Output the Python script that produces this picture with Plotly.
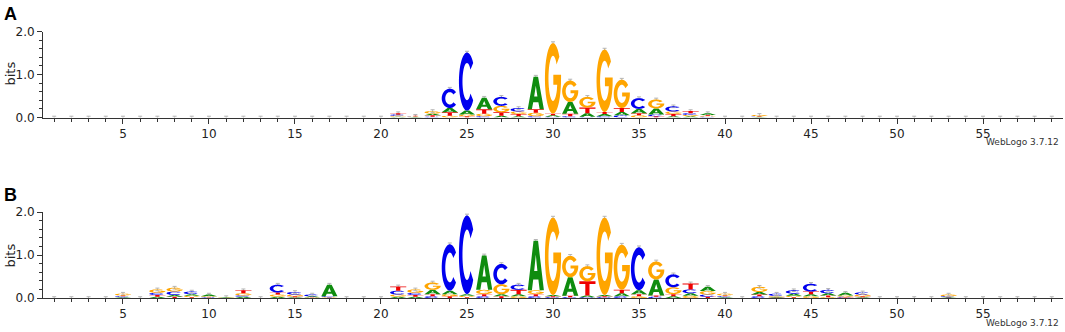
import numpy as np
import plotly.graph_objects as go

# positions 1..59
positions = list(range(1, 60))

# panel A letter heights (bits), one value per position
a_A = [0]*20 + [0.02, 0.01, 0.04, 0.10, 0.09, 0.27, 0.04, 0.03, 0.76, 0.03,
                0.27, 0.08, 0.05, 0.08, 0.10, 0.14, 0.03, 0.03, 0.04, 0,
                0, 0.01] + [0]*17
a_C = [0]*20 + [0.03, 0.01, 0.02, 0.45, 1.35, 0.03, 0.21, 0.08, 0.03, 0.02,
                0.03, 0.02, 0.03, 0.05, 0.25, 0.04, 0.12, 0.04, 0.02, 0,
                0, 0.01] + [0]*17
a_G = [0]*20 + [0.02, 0.01, 0.06, 0.04, 0.04, 0.06, 0.15, 0.06, 0.08, 1.64,
                0.50, 0.25, 1.45, 0.66, 0.05, 0.21, 0.06, 0.03, 0.02, 0,
                0, 0.03] + [0]*17
a_T = [0]*20 + [0.03, 0.01, 0.03, 0.08, 0.03, 0.10, 0.08, 0.05, 0.08, 0.04,
                0.06, 0.13, 0.05, 0.09, 0.05, 0.03, 0.05, 0.05, 0.02, 0,
                0, 0.01] + [0]*17

# panel B letter heights (bits)
b_A = [0, 0, 0, 0, 0.02, 0, 0.03, 0.04, 0.04, 0.04,
       0.01, 0.03, 0, 0.03, 0.02, 0.02, 0.27, 0, 0, 0,
       0.03, 0.03, 0.10, 0.08, 0.04, 0.80, 0.05, 0.05, 1.15, 0.03,
       0.43, 0.04, 0.03, 0.07, 0.09, 0.37, 0.04, 0.06, 0.10, 0.02,
       0, 0.06, 0.02, 0.05, 0.05, 0.05, 0.06, 0.02, 0, 0,
       0, 0, 0.01, 0, 0, 0, 0, 0, 0]
b_C = [0, 0, 0, 0, 0.02, 0, 0.05, 0.08, 0.06, 0.01,
       0, 0.03, 0, 0.18, 0.06, 0.04, 0.02, 0, 0, 0,
       0.09, 0.05, 0.04, 1.08, 1.83, 0.04, 0.47, 0.12, 0.04, 0.02,
       0.02, 0.02, 0.02, 0.04, 1.00, 0.03, 0.30, 0.09, 0.05, 0.02,
       0, 0.04, 0.05, 0.08, 0.18, 0.08, 0.02, 0.05, 0, 0,
       0, 0, 0.02, 0, 0, 0, 0, 0, 0]
b_G = [0, 0, 0, 0, 0.04, 0, 0.08, 0.09, 0.03, 0.02,
       0.01, 0.05, 0, 0.05, 0.04, 0.01, 0.01, 0, 0, 0,
       0.05, 0.08, 0.17, 0.05, 0.03, 0.10, 0.23, 0.04, 0.09, 1.80,
       0.50, 0.35, 1.80, 1.05, 0.04, 0.42, 0.16, 0.05, 0.08, 0.04,
       0, 0.12, 0.02, 0.03, 0.04, 0.02, 0.03, 0.04, 0, 0,
       0, 0, 0.04, 0, 0, 0, 0, 0, 0]
b_T = [0, 0, 0, 0, 0.02, 0, 0.04, 0.03, 0.02, 0.01,
       0, 0.07, 0, 0.05, 0.02, 0.01, 0.01, 0, 0, 0,
       0.10, 0.04, 0.05, 0.04, 0.02, 0.05, 0.04, 0.10, 0.05, 0.02,
       0.03, 0.33, 0.02, 0.08, 0.05, 0.03, 0.05, 0.14, 0.03, 0.02,
       0, 0.04, 0.01, 0.02, 0.06, 0.04, 0.01, 0.02, 0, 0,
       0, 0, 0.01, 0, 0, 0, 0, 0, 0]

x_ticks = [5, 10, 15, 20, 25, 30, 35, 40, 45, 50, 55]

colours = {"A": "#0f8c0f", "C": "#0000ee", "G": "#ffa500", "T": "#ee0000"}
W, H = 1065, 332
FONT = "DejaVu Sans, Liberation Sans, sans-serif"
BOLD = "Liberation Sans, Arial, sans-serif"


def arc(cx, cy, rx, ry, a0, a1, n=40):
    t = np.radians(np.linspace(a0, a1, n))
    return list(zip(cx + rx * np.cos(t), cy + ry * np.sin(t)))


def glyph(letter):
    # outlines in a unit box
    if letter == "A":
        outer = [(0, 0), (0.36, 1), (0.64, 1), (1, 0), (0.74, 0),
                 (0.66, 0.22), (0.34, 0.22), (0.26, 0)]
        hole = [(0.40, 0.39), (0.60, 0.39), (0.5, 0.72)]
        return [outer, hole]
    if letter == "T":
        return [[(0.37, 0), (0.63, 0), (0.63, 0.8), (1, 0.8), (1, 1),
                 (0, 1), (0, 0.8), (0.37, 0.8)]]
    if letter == "C":
        pts = arc(0.5, 0.5, 0.5, 0.5, 40, 320) + arc(0.5, 0.5, 0.28, 0.32, 320, 40)
        return [pts]
    pts = (arc(0.5, 0.5, 0.5, 0.5, 38, 352)
           + [(1.0, 0.55), (0.52, 0.55), (0.52, 0.41), (0.76, 0.41)]
           + arc(0.5, 0.5, 0.28, 0.32, -31, -322))
    return [pts]


def letter_path(letter, x, y0, h, w=0.94):
    parts = []
    for poly in glyph(letter):
        s = " L ".join(f"{x - w / 2 + px * w:.4f},{y0 + py * h:.5f}" for px, py in poly)
        parts.append("M " + s + " Z")
    return " ".join(parts)


panels = [
    ("x", "y", {"A": a_A, "C": a_C, "G": a_G, "T": a_T}),
    ("x2", "y2", {"A": b_A, "C": b_C, "G": b_G, "T": b_T}),
]

fig = go.Figure()
shapes = []
for xref, yref, heights in panels:
    tops = []
    for i, pos in enumerate(positions):
        stack = sorted(((heights[l][i], l) for l in "ACGT"), key=lambda t: t[0])
        y0 = 0.0
        for h, l in stack:
            if h <= 0:
                continue
            shapes.append(dict(type="path", xref=xref, yref=yref,
                               path=letter_path(l, pos, y0, h),
                               fillcolor=colours[l], fillrule="evenodd",
                               line=dict(width=0), layer="above"))
            y0 += h
        tops.append(y0)
    fig.add_trace(go.Scatter(
        x=positions, y=tops, xaxis=xref, yaxis=yref, mode="markers",
        marker=dict(size=1, color="rgba(0,0,0,0)"),
        error_y=dict(type="constant", value=0.03, color="#b4b4b4",
                     thickness=1, width=2),
        hoverinfo="skip", showlegend=False))

xdom = [43 / W, 1063 / W]
axis_common = dict(showline=True, linecolor="#333", linewidth=1, mirror=False,
                   zeroline=False, showgrid=False, ticks="outside",
                   tickcolor="#333", tickfont=dict(family=FONT, size=12, color="#222"),
                   automargin=False)
xaxis = dict(axis_common, domain=xdom, range=[0.35, 59.65], tickmode="array",
             tickvals=x_ticks, ticklen=5,
             minor=dict(dtick=1, tick0=0, ticklen=3, ticks="outside", tickcolor="#333"))
yaxis = dict(axis_common, range=[0, 2.0], tickvals=[0, 1, 2], tickformat=".1f",
             ticklen=5, minor=dict(dtick=0.2, ticklen=3, ticks="outside", tickcolor="#333"))

fig.update_layout(
    width=W, height=H, template="none",
    margin=dict(l=0, r=0, t=0, b=0, pad=0),
    paper_bgcolor="white", plot_bgcolor="white",
    xaxis=dict(xaxis, anchor="y"),
    yaxis=dict(yaxis, anchor="x", domain=[1 - 117.5 / H, 1 - 31.5 / H]),
    xaxis2=dict(xaxis, anchor="y2"),
    yaxis2=dict(yaxis, anchor="x2", domain=[1 - 298 / H, 1 - 212 / H]),
    shapes=shapes,
    showlegend=False,
)

annots = []
for lab, ylab, ybits, yweb in [("A", 14, 74, 142), ("B", 195, 256, 323)]:
    annots.append(dict(text=f"<b>{lab}</b>", x=2 / W, y=1 - ylab / H, xref="paper", yref="paper",
                       xanchor="left", yanchor="middle", showarrow=False,
                       font=dict(family=BOLD, size=18, color="black")))
    annots.append(dict(text="bits", x=9.5 / W, y=1 - ybits / H, xref="paper", yref="paper",
                       xanchor="center", yanchor="middle", textangle=-90, showarrow=False,
                       font=dict(family=FONT, size=13, color="#222")))
    annots.append(dict(text="WebLogo 3.7.12", x=1061 / W, y=1 - yweb / H, xref="paper",
                       yref="paper", xanchor="right", yanchor="middle", showarrow=False,
                       font=dict(family=FONT, size=9, color="#333")))
fig.update_layout(annotations=annots)

fig.write_html("out.html", config={"displayModeBar": False},
               post_script="document.body.style.margin='0';")
